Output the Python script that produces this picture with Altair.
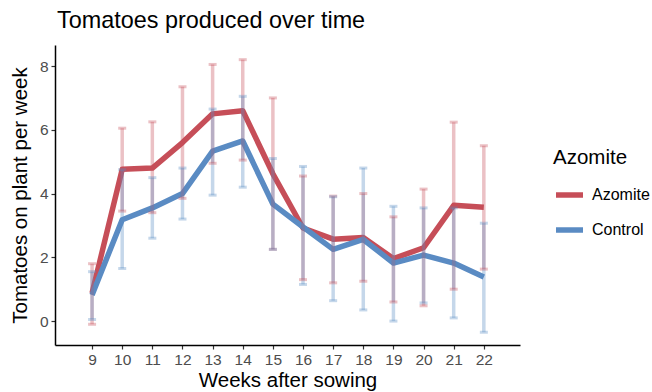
import altair as alt
import pandas as pd

weeks = [9, 10, 11, 12, 13, 14, 15, 16, 17, 18, 19, 20, 21, 22]
groups = ["Azomite", "Control"]

azo_mean = [0.88, 4.76, 4.80, 5.60, 6.50, 6.60, 4.62, 2.92, 2.57, 2.62, 1.96, 2.30, 3.63, 3.57]
azo_lo = [-0.10, 3.45, 3.40, 3.85, 4.95, 5.05, 2.25, 1.30, 1.20, 1.25, 0.60, 0.48, 1.00, 1.63]
azo_hi = [1.80, 6.05, 6.25, 7.35, 8.05, 8.20, 7.00, 4.55, 3.92, 4.00, 3.27, 4.14, 6.24, 5.50]

ctl_mean = [0.82, 3.18, 3.55, 4.00, 5.33, 5.65, 3.67, 2.95, 2.25, 2.56, 1.82, 2.07, 1.82, 1.38]
ctl_lo = [0.05, 1.65, 2.60, 3.20, 3.95, 4.20, 2.25, 1.15, 0.64, 0.35, 0.00, 0.57, 0.10, -0.35]
ctl_hi = [1.55, 4.75, 4.50, 4.80, 6.65, 7.05, 5.10, 4.85, 3.90, 4.80, 3.60, 3.55, 3.55, 3.07]

colors = ["#C64E58", "#5A8BC3"]

rows = []
for g, m, lo, hi in [(groups[0], azo_mean, azo_lo, azo_hi), (groups[1], ctl_mean, ctl_lo, ctl_hi)]:
    for w, a, b, c in zip(weeks, m, lo, hi):
        rows.append({"week": w, "group": g, "mean": a, "lo": b, "hi": c})
df = pd.DataFrame(rows)

FONT = "Liberation Sans"

xscale = alt.Scale(domain=[7.77, 23.2], nice=False, zero=False)
yscale = alt.Scale(domain=[-0.75, 8.66], nice=False, zero=False)
cscale = alt.Scale(domain=groups, range=colors)

base = alt.Chart(df)

xaxis = alt.Axis(values=weeks, title="Weeks after sowing", format="d", grid=False,
                 domainColor="black", domainWidth=1.5, tickColor="#333333", tickSize=4,
                 tickWidth=1.2, labelColor="#4D4D4D", labelFontSize=15.5, labelFont=FONT,
                 labelPadding=3, labelOverlap=False, labelSeparation=0, titleFont=FONT,
                 titleFontSize=20.5, titleFontWeight="normal", titleColor="black",
                 titlePadding=3, labelFlush=False)
xenc = alt.X("week:Q", scale=xscale, axis=xaxis)
yenc = alt.Y("mean:Q", scale=yscale,
             axis=alt.Axis(values=[0, 2, 4, 6, 8], title="Tomatoes on plant per week", grid=False,
                           domainColor="black", domainWidth=1.5, tickColor="#333333", tickSize=4,
                           tickWidth=1.2, labelColor="#4D4D4D", labelFontSize=15.5, labelFont=FONT,
                           labelPadding=3, labelOverlap=False, titleFont=FONT, titleFontSize=20.5,
                           titleFontWeight="normal", titleColor="black", titlePadding=9))

lines = base.mark_line(strokeWidth=5.5, strokeJoin="round").encode(
    x=xenc,
    y=yenc,
    color=alt.Color("group:N", scale=cscale,
                    legend=alt.Legend(title="Azomite", orient="none", legendX=498, legendY=103,
                                      symbolType="stroke", symbolStrokeWidth=5.5, symbolSize=729,
                                      titleFont=FONT, titleFontSize=20.5, titleFontWeight="normal",
                                      titleColor="black", labelFont=FONT, labelFontSize=16,
                                      labelColor="black", rowPadding=7, titlePadding=10,
                                      labelOffset=6)),
)

rules = base.mark_rule(strokeWidth=3.5, opacity=0.35).encode(
    x=xenc,
    y=alt.Y("lo:Q", scale=yscale),
    y2="hi:Q",
    color=alt.Color("group:N", scale=cscale, legend=None),
)
cap_lo = base.mark_tick(orient="horizontal", size=8, thickness=3, opacity=0.35).encode(
    x=xenc,
    y=alt.Y("lo:Q", scale=yscale),
    color=alt.Color("group:N", scale=cscale, legend=None),
)
cap_hi = base.mark_tick(orient="horizontal", size=8, thickness=3, opacity=0.35).encode(
    x=xenc,
    y=alt.Y("hi:Q", scale=yscale),
    color=alt.Color("group:N", scale=cscale, legend=None),
)

chart = alt.layer(lines, rules, cap_lo, cap_hi).properties(
    width=465, height=300,
    background="white",
    title=alt.TitleParams("Tomatoes produced over time", anchor="start", frame="group", font=FONT,
                          fontSize=23.4, fontWeight="normal", color="black", offset=12, dx=2),
    autosize=alt.AutoSizeParams(type="none"),
    padding={"left": 55, "top": 45, "right": 132, "bottom": 47},
).configure_view(stroke=None).configure_axis(labelOverlap=False)

chart.save("out.html", embed_options={"renderer": "svg", "actions": False})
